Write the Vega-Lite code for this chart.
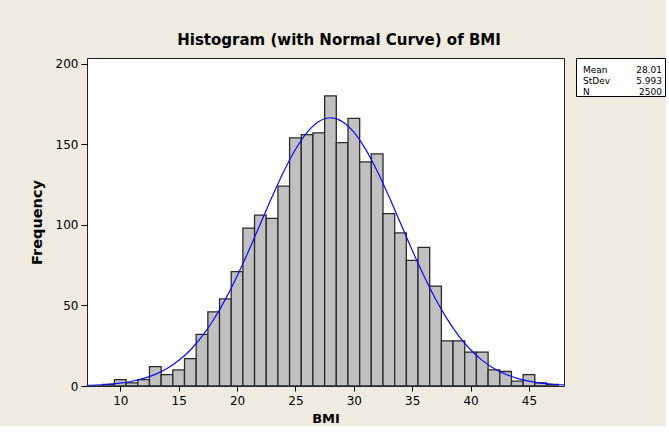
{
  "$schema": "https://vega.github.io/schema/vega-lite/v6.json",
  "background": "#EFEBE1",
  "padding": {"left": 28, "top": 33, "right": 0, "bottom": 0},
  "bounds": "flush",
  "spacing": 12,
  "title": {"text": "Histogram (with Normal Curve) of BMI", "anchor": "middle", "dx": -8, "fontSize": 15, "fontWeight": "bold", "font": "DejaVu Sans", "color": "#000", "offset": 9},
  "datasets": {
    "hist": [
      {"lo": 7.5, "hi": 8.5, "count": 0},
      {"lo": 8.5, "hi": 9.5, "count": 1},
      {"lo": 9.5, "hi": 10.5, "count": 4},
      {"lo": 10.5, "hi": 11.5, "count": 2},
      {"lo": 11.5, "hi": 12.5, "count": 4},
      {"lo": 12.5, "hi": 13.5, "count": 12},
      {"lo": 13.5, "hi": 14.5, "count": 7},
      {"lo": 14.5, "hi": 15.5, "count": 10},
      {"lo": 15.5, "hi": 16.5, "count": 17},
      {"lo": 16.5, "hi": 17.5, "count": 32},
      {"lo": 17.5, "hi": 18.5, "count": 46},
      {"lo": 18.5, "hi": 19.5, "count": 54},
      {"lo": 19.5, "hi": 20.5, "count": 71},
      {"lo": 20.5, "hi": 21.5, "count": 98},
      {"lo": 21.5, "hi": 22.5, "count": 106},
      {"lo": 22.5, "hi": 23.5, "count": 104},
      {"lo": 23.5, "hi": 24.5, "count": 124},
      {"lo": 24.5, "hi": 25.5, "count": 154},
      {"lo": 25.5, "hi": 26.5, "count": 156},
      {"lo": 26.5, "hi": 27.5, "count": 157},
      {"lo": 27.5, "hi": 28.5, "count": 180},
      {"lo": 28.5, "hi": 29.5, "count": 151},
      {"lo": 29.5, "hi": 30.5, "count": 166},
      {"lo": 30.5, "hi": 31.5, "count": 139},
      {"lo": 31.5, "hi": 32.5, "count": 144},
      {"lo": 32.5, "hi": 33.5, "count": 107},
      {"lo": 33.5, "hi": 34.5, "count": 95},
      {"lo": 34.5, "hi": 35.5, "count": 78},
      {"lo": 35.5, "hi": 36.5, "count": 86},
      {"lo": 36.5, "hi": 37.5, "count": 62},
      {"lo": 37.5, "hi": 38.5, "count": 28},
      {"lo": 38.5, "hi": 39.5, "count": 28},
      {"lo": 39.5, "hi": 40.5, "count": 21},
      {"lo": 40.5, "hi": 41.5, "count": 21},
      {"lo": 41.5, "hi": 42.5, "count": 10},
      {"lo": 42.5, "hi": 43.5, "count": 9},
      {"lo": 43.5, "hi": 44.5, "count": 3},
      {"lo": 44.5, "hi": 45.5, "count": 7},
      {"lo": 45.5, "hi": 46.5, "count": 2},
      {"lo": 46.5, "hi": 47.5, "count": 1}
    ],
    "curve": [
      {"bmi": 7, "freq": 0.36}, {"bmi": 8, "freq": 0.63}, {"bmi": 9, "freq": 1.09}, {"bmi": 10, "freq": 1.82},
      {"bmi": 11, "freq": 2.96}, {"bmi": 12, "freq": 4.70}, {"bmi": 13, "freq": 7.23}, {"bmi": 14, "freq": 10.83},
      {"bmi": 15, "freq": 15.77}, {"bmi": 16, "freq": 22.34}, {"bmi": 17, "freq": 30.78}, {"bmi": 18, "freq": 41.25},
      {"bmi": 19, "freq": 53.75}, {"bmi": 20, "freq": 68.12}, {"bmi": 21, "freq": 83.97}, {"bmi": 22, "freq": 100.65},
      {"bmi": 23, "freq": 117.35}, {"bmi": 24, "freq": 133.04}, {"bmi": 25, "freq": 146.70}, {"bmi": 26, "freq": 157.32},
      {"bmi": 27, "freq": 164.07}, {"bmi": 28, "freq": 166.42}, {"bmi": 29, "freq": 164.17}, {"bmi": 30, "freq": 157.49},
      {"bmi": 31, "freq": 146.94}, {"bmi": 32, "freq": 133.34}, {"bmi": 33, "freq": 117.67}, {"bmi": 34, "freq": 100.99},
      {"bmi": 35, "freq": 84.29}, {"bmi": 36, "freq": 68.43}, {"bmi": 37, "freq": 54.02}, {"bmi": 38, "freq": 41.48},
      {"bmi": 39, "freq": 30.97}, {"bmi": 40, "freq": 22.49}, {"bmi": 41, "freq": 15.88}, {"bmi": 42, "freq": 10.91},
      {"bmi": 43, "freq": 7.29}, {"bmi": 44, "freq": 4.74}, {"bmi": 45, "freq": 2.99}, {"bmi": 46, "freq": 1.84},
      {"bmi": 47, "freq": 1.10}, {"bmi": 48, "freq": 0.64}
    ],
    "stats": [
      {"stat": "Mean", "value": "28.01"},
      {"stat": "StDev", "value": "5.993"},
      {"stat": "N", "value": "2500"}
    ]
  },
  "hconcat": [
    {
      "width": 477,
      "height": 328,
      "view": {"fill": "#FFFFFF", "stroke": "#222222", "strokeWidth": 1},
      "layer": [
        {
          "data": {"name": "hist"},
          "mark": {"type": "bar", "fill": "#C0C0C0", "stroke": "#2A2A2A", "strokeWidth": 1.3},
          "encoding": {
            "x": {"field": "lo", "type": "quantitative",
              "scale": {"domain": [7.15, 48], "nice": false, "zero": false},
              "axis": {"title": "BMI", "values": [10, 15, 20, 25, 30, 35, 40, 45], "grid": false, "domain": false,
                "tickSize": 5, "tickColor": "#000", "labelPadding": 4, "labelFontSize": 12, "labelFont": "DejaVu Sans", "labelColor": "#000",
                "titleFontSize": 13, "titleFont": "DejaVu Sans", "titleFontWeight": "bold", "titleColor": "#000", "titlePadding": 6}},
            "x2": {"field": "hi"},
            "y": {"field": "count", "type": "quantitative",
              "scale": {"domain": [0, 203.5], "nice": false},
              "axis": {"title": "Frequency", "values": [0, 50, 100, 150, 200], "grid": false, "domain": false,
                "tickSize": 6, "tickColor": "#000", "labelPadding": 3, "labelFontSize": 12, "labelFont": "DejaVu Sans", "labelColor": "#000",
                "titleFontSize": 14.5, "titleFont": "DejaVu Sans", "titleFontWeight": "bold", "titleColor": "#000", "titlePadding": 11}},
            "y2": {"datum": 0}
          }
        },
        {
          "data": {"name": "curve"},
          "mark": {"type": "line", "color": "#0A0AFF", "strokeWidth": 1.2, "interpolate": "monotone", "clip": true},
          "encoding": {
            "x": {"field": "bmi", "type": "quantitative"},
            "y": {"field": "freq", "type": "quantitative"}
          }
        }
      ]
    },
    {
      "width": 89,
      "height": 38,
      "view": {"fill": "#FFFFFF", "stroke": "#000000", "strokeWidth": 1},
      "data": {"name": "stats"},
      "layer": [
        {
          "mark": {"type": "text", "align": "left", "baseline": "middle", "fontSize": 9, "font": "DejaVu Sans", "color": "#000", "dx": 2, "dy": 4},
          "encoding": {
            "x": {"datum": "label", "type": "ordinal", "scale": {"type": "point", "domain": ["label", "value"], "padding": 0.0633}, "axis": null},
            "y": {"field": "stat", "type": "ordinal", "scale": {"type": "point", "domain": ["Mean", "StDev", "N"], "padding": 0.727}, "axis": null},
            "text": {"field": "stat"}
          }
        },
        {
          "mark": {"type": "text", "align": "right", "baseline": "middle", "fontSize": 9, "font": "DejaVu Sans", "color": "#000", "dx": 2, "dy": 4},
          "encoding": {
            "x": {"datum": "value", "type": "ordinal"},
            "y": {"field": "stat", "type": "ordinal"},
            "text": {"field": "value"}
          }
        }
      ]
    }
  ],
  "config": {"axis": {"labelOverlap": false}}
}
